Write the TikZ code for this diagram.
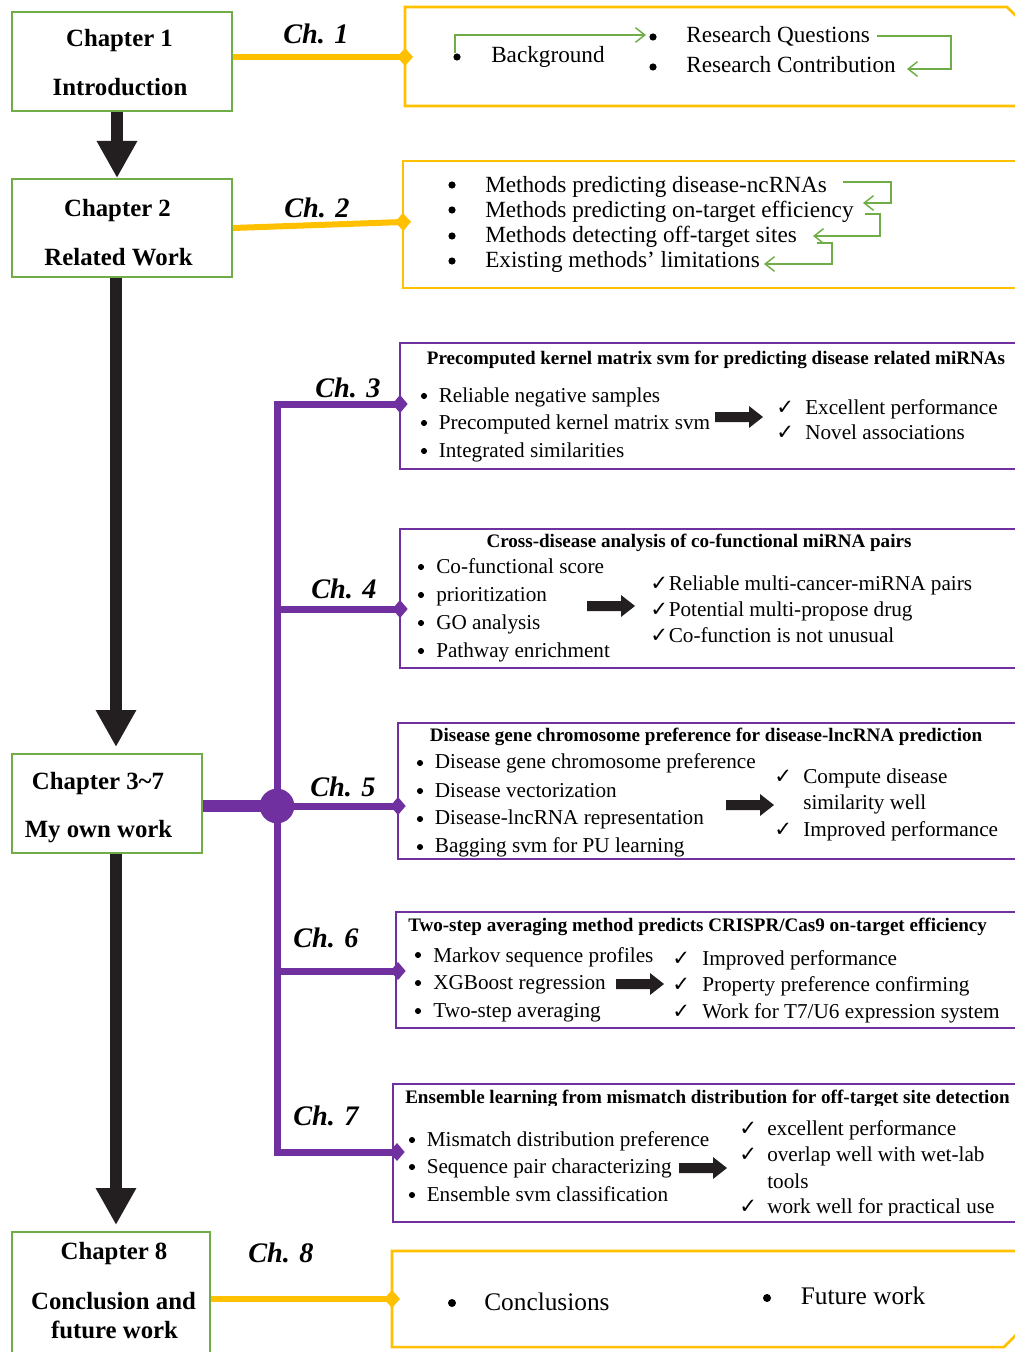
\documentclass[tikz,border=0pt]{standalone}
\usepackage{fontspec}
\setmainfont{Liberation Serif}
\newfontfamily\dejavu{DejaVu Sans}
\usetikzlibrary{arrows.meta,fit}
\definecolor{ygold}{HTML}{FFC000}
\definecolor{pviolet}{HTML}{7030A0}
\definecolor{cgreen}{HTML}{70AD47}
\definecolor{arrblack}{HTML}{231F20}
\newcommand{\setfs}[1]{\fontsize{#1pt}{#1pt}\selectfont}
\newcommand{\ck}{{\dejavu ✓}}
\tikzset{
  gbox/.style={draw=cgreen, line width=1.5pt, inner sep=0pt},
  pbox/.style={draw=pviolet, line width=1.5pt, inner sep=0pt},
  ybox/.style={draw=ygold, line width=1.9pt},
  chaptxt/.style={font=\bfseries\setfs{18.6}, inner sep=0pt, anchor=base},
  chlabel/.style={font=\bfseries\itshape\setfs{21.2}, inner sep=0pt, anchor=base west},
  ytxt/.style={font=\setfs{17.4}, inner sep=0pt, anchor=base west},
  etxt/.style={font=\setfs{19}, inner sep=0pt, anchor=base west},
  ptxt/.style={font=\setfs{15.9}, inner sep=0pt, anchor=base west},
  ptitle/.style={font=\bfseries\setfs{14.3}, inner sep=0pt, anchor=base},
  bulbig/.style={circle, fill=black, inner sep=0pt, minimum size=5.4pt},
  bulsm/.style={circle, fill=black, inner sep=0pt, minimum size=4.6pt},
  yline/.style={draw=ygold, line width=4.5pt, -{Diamond[length=12pt,width=13.5pt]}, shorten >=-6pt},
  pline/.style={draw=pviolet, line width=5.25pt, line join=miter},
  pdia/.style={-{Diamond[length=11.5pt,width=13.5pt]}, shorten >=-5.75pt},
  garr/.style={draw=cgreen, line width=1.1pt, -{Straight Barb[length=7pt,width=11pt]}},
  bigarr/.style={draw=arrblack, line width=9pt, -{Triangle[length=27.75pt,width=28.5pt]}},
  blockarr/.pic={\fill[arrblack] (0,-5) -- (34,-5) -- (34,-11) -- (48,0) -- (34,11) -- (34,5) -- (0,5) -- cycle;}
}
\begin{document}
\begin{tikzpicture}[x=0.75pt,y=-0.75pt]
\useasboundingbox (0,0) rectangle (1014,1352);

% ---------------- chapter boxes ----------------
\node[gbox, fit={(12,12) (232,111)}] (c1) {};
\node[chaptxt] (c1a) at (119.5,47) {Chapter 1};
\node[chaptxt] (c1b) at (120,96) {Introduction};

\node[gbox, fit={(12,179) (232,277)}] (c2) {};
\node[chaptxt] (c2a) at (117.5,216) {Chapter 2};
\node[chaptxt] (c2b) at (118.5,265) {Related Work};

\node[gbox, fit={(12,754) (202,853)}] (c37) {};
\node[chaptxt] (c37a) at (98,789) {Chapter 3\textasciitilde7};
\node[chaptxt] (c37b) at (98.5,837) {My own work};

\node[gbox, fit={(12,1232) (210,1365)}] (c8) {};
\node[chaptxt] (c8a) at (114,1259) {Chapter 8};
\node[chaptxt] (c8b) at (113.5,1309) {Conclusion and};
\node[chaptxt] (c8c) at (114.5,1338) {future work};

% big arrows
\coordinate (ax) at (117,0);
\coordinate (bx) at (116,0);
\draw[bigarr] (c1.south -| ax) -- (c2.north -| ax);
\draw[bigarr, shorten >=4.5pt] (c2.south -| bx) -- (c37.north -| bx);
\draw[bigarr, shorten >=4.5pt] (c37.south -| bx) -- (c8.north -| bx);

% ---------------- yellow boxes ----------------
\draw[ybox] (1030,106) -- (405,106) -- (405,7) -- (1007,7) -- (1030,30);
\draw[ybox] (1030,161) -- (403,161) -- (403,288) -- (1030,288);
\draw[ybox] (1030,1251) -- (392,1251) -- (392,1347) -- (1004,1347) -- (1030,1321);
\coordinate (b1) at (405,57);
\coordinate (b2) at (403,222);
\coordinate (b8) at (392,1299);
\draw[yline] (c1.east |- b1) -- (b1);
\draw[yline] (c2.east) -- (b2);
\draw[yline] (c8.east |- b8) -- (b8);
\node[chlabel] (l1) at (283,44) {Ch. 1};
\node[chlabel] (l2) at (284,217) {Ch. 2};
\node[chlabel] (l8) at (248,1262) {Ch. 8};

% Ch1 content
\node[bulbig] (bgb) at (457,57) {};
\node[ytxt] (bg) at (491,63) {Background};
\node[bulbig] (rqb) at (653,37) {};
\node[ytxt] (rq) at (686,43) {Research Questions};
\node[bulbig] (rcb) at (653,67) {};
\node[ytxt] (rc) at (686,73) {Research Contribution};
\coordinate (g1s) at (455,53);
\coordinate (g1e) at (646,35);
\draw[garr] (g1s) |- (g1e);
\coordinate (g2s) at (877,36);
\coordinate (g2e) at (907,69);
\draw[garr] (g2s) -- (951,36) |- (g2e);

% Ch2 content
\node[bulbig] (m1b) at (452,185) {};
\node[ytxt] (m1) at (485,192) {Methods predicting disease-ncRNAs};
\node[bulbig] (m2b) at (452,210) {};
\node[ytxt] (m2) at (485,217) {Methods predicting on-target efficiency};
\node[bulbig] (m3b) at (452,236) {};
\node[ytxt] (m3) at (485,242) {Methods detecting off-target sites};
\node[bulbig] (m4b) at (452,261) {};
\node[ytxt] (m4) at (485,267) {Existing methods’ limitations};
\coordinate (g3s) at (843,182); \coordinate (g3e) at (863,203);
\coordinate (g4s) at (865,214); \coordinate (g4e) at (813,236);
\coordinate (g5s) at (817,243); \coordinate (g5e) at (764,264);
\draw[garr] (g3s) -- (891,182) |- (g3e);
\draw[garr] (g4s) -- (880,214) |- (g4e);
\draw[garr] (g5s) -- (832,243) |- (g5e);

% Ch8 content
\node[bulbig, minimum size=6pt] (cob) at (452,1303) {};
\node[etxt] (co) at (484,1310) {Conclusions};
\node[bulbig, minimum size=6pt] (fwb) at (767,1298) {};
\node[etxt] (fw) at (800.5,1304) {Future work};

% ---------------- purple boxes ----------------
\node[pbox, fit={(400,343) (1025,469)}] (p3) {};
\node[pbox, fit={(400,529) (1025,668)}] (p4) {};
\node[pbox, fit={(398,723) (1025,859)}] (p5) {};
\node[pbox, fit={(396,912) (1025,1028)}] (p6) {};
\node[pbox, fit={(393,1084) (1025,1222)}] (p7) {};

\coordinate (d3) at (400,404);
\coordinate (d4) at (400,609);
\coordinate (d5) at (398,806);
\coordinate (d6) at (398,971);
\coordinate (d7) at (397,1152);
\node[circle, fill=pviolet, minimum size=26pt, inner sep=0pt] (J) at (277,806) {};

\draw[pline, pdia, shorten <=-5.75pt, {Diamond[length=11.5pt,width=13.5pt]}-{Diamond[length=11.5pt,width=13.5pt]}] (d3) -| (J.center) |- (d7);
\draw[pline, pdia] (J |- d4) -- (d4);
\draw[pline, pdia] (J.center) -- (d5);
\draw[pline, pdia] (J |- d6) -- (d6);
\draw[pline, line width=9pt] (c37.east |- J) -- (J.center);

\node[chlabel] (l3) at (315,397) {Ch. 3};
\node[chlabel] (l4) at (311,598) {Ch. 4};
\node[chlabel] (l5) at (310,796) {Ch. 5};
\node[chlabel] (l6) at (293,947) {Ch. 6};
\node[chlabel] (l7) at (293,1125) {Ch. 7};

% Ch3
\node[ptitle] (t3) at (716,364) {Precomputed kernel matrix svm for predicting disease related miRNAs};
\node[bulsm] (b31) at (424,396) {};
\node[ptxt] (a31) at (438.5,402) {Reliable negative samples};
\node[bulsm] (b32) at (424,423) {};
\node[ptxt] (a32) at (438.5,429) {Precomputed kernel matrix svm};
\node[bulsm] (b33) at (424,451) {};
\node[ptxt] (a33) at (438.5,457) {Integrated similarities};
\pic at (715,417) {blockarr};
\node[ptxt] (k31) at (776,414) {\ck};
\node[ptxt] (r31) at (805,414) {Excellent performance};
\node[ptxt] (k32) at (776,439) {\ck};
\node[ptxt] (r32) at (805,439) {Novel associations};

% Ch4
\node[ptitle] (t4) at (699,547) {Cross-disease analysis of co-functional miRNA pairs};
\node[bulsm] (b41) at (421,567) {};
\node[ptxt] (a41) at (436,573) {Co-functional score};
\node[bulsm] (b42) at (421,595) {};
\node[ptxt] (a42) at (436,601) {prioritization};
\node[bulsm] (b43) at (421,623) {};
\node[ptxt] (a43) at (436,629) {GO analysis};
\node[bulsm] (b44) at (421,651) {};
\node[ptxt] (a44) at (436,657) {Pathway enrichment};
\pic at (587,606) {blockarr};
\node[ptxt] (k41) at (650,590) {\ck};
\node[ptxt] (r41) at (668.5,590) {Reliable multi-cancer-miRNA pairs};
\node[ptxt] (k42) at (650,616) {\ck};
\node[ptxt] (r42) at (668.5,616) {Potential multi-propose drug};
\node[ptxt] (k43) at (650,642) {\ck};
\node[ptxt] (r43) at (668.5,642) {Co-function is not unusual};

% Ch5
\node[ptitle] (t5) at (706,741) {Disease gene chromosome preference for disease-lncRNA prediction};
\node[bulsm] (b51) at (420,763) {};
\node[ptxt] (a51) at (434.6,768) {Disease gene chromosome preference};
\node[bulsm] (b52) at (420,791) {};
\node[ptxt] (a52) at (434.6,797) {Disease vectorization};
\node[bulsm] (b53) at (420,819) {};
\node[ptxt] (a53) at (434.6,824) {Disease-lncRNA representation};
\node[bulsm] (b54) at (420,847) {};
\node[ptxt] (a54) at (434.6,852) {Bagging svm for PU learning};
\pic at (726,805) {blockarr};
\node[ptxt] (k51) at (774,783) {\ck};
\node[ptxt] (r51) at (803,783) {Compute disease};
\node[ptxt] (r52) at (803,809) {similarity well};
\node[ptxt] (k53) at (774,836) {\ck};
\node[ptxt] (r53) at (803,836) {Improved performance};

% Ch6
\node[ptitle, anchor=base west] (t6) at (408,931) {Two-step averaging method predicts CRISPR/Cas9 on-target efficiency};
\node[bulsm] (b61) at (418,955) {};
\node[ptxt] (a61) at (433,962) {Markov sequence profiles};
\node[bulsm] (b62) at (418,983) {};
\node[ptxt] (a62) at (433,989) {XGBoost regression};
\node[bulsm] (b63) at (418,1011) {};
\node[ptxt] (a63) at (433,1017) {Two-step averaging};
\pic at (616,984) {blockarr};
\node[ptxt] (k61) at (672,965) {\ck};
\node[ptxt] (r61) at (702,965) {Improved performance};
\node[ptxt] (k62) at (672,991) {\ck};
\node[ptxt] (r62) at (702,991) {Property preference confirming};
\node[ptxt] (k63) at (672,1018) {\ck};
\node[ptxt] (r63) at (702,1018) {Work for T7/U6 expression system};

% Ch7
\begin{scope}
\clip (395,1086) rectangle (1014,1105);
\node[ptitle, anchor=base west] (t7) at (405,1103) {Ensemble learning from mismatch distribution for off-target site detection};
\end{scope}
\node[bulsm] (b71) at (412,1140) {};
\node[ptxt] (a71) at (426.5,1146) {Mismatch distribution preference};
\node[bulsm] (b72) at (412,1167) {};
\node[ptxt] (a72) at (426.5,1173) {Sequence pair characterizing};
\node[bulsm] (b73) at (412,1195) {};
\node[ptxt] (a73) at (426.5,1201) {Ensemble svm classification};
\pic at (679,1168) {blockarr};
\node[ptxt] (k71) at (739,1135) {\ck};
\node[ptxt] (r71) at (767,1135) {excellent performance};
\node[ptxt] (k72) at (739,1161) {\ck};
\node[ptxt] (r72) at (767,1161) {overlap well with wet-lab};
\node[ptxt] (r73) at (767,1188) {tools};
\node[ptxt] (k74) at (739,1213) {\ck};
\begin{scope}
\clip (760,1190) rectangle (1014,1215);
\node[ptxt] (r74) at (767,1213) {work well for practical use};
\end{scope}
\end{tikzpicture}
\end{document}
